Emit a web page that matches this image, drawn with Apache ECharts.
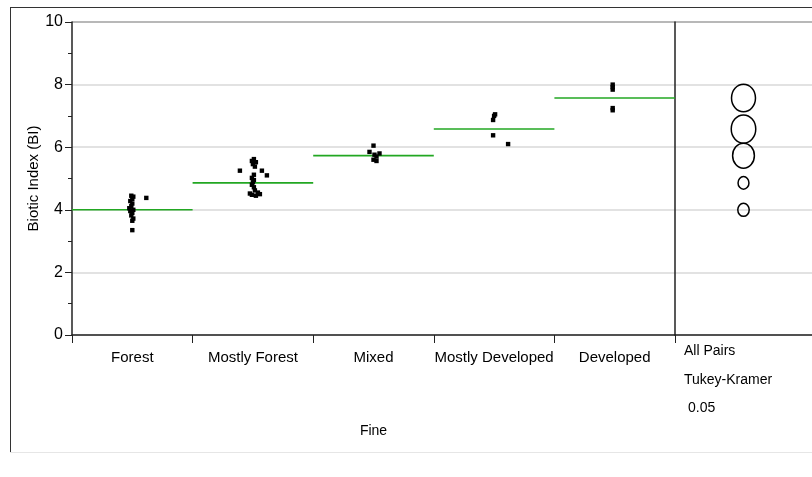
<!DOCTYPE html>
<html>
<head>
<meta charset="utf-8">
<script src="https://cdn.jsdelivr.net/npm/echarts@6/dist/echarts.min.js"></script>
<style>
  html, body { margin: 0; padding: 0; background: #fff; }
  #chart { width: 812px; height: 477px; }
</style>
</head>
<body>
<div id="chart"></div>
<script>
// Land-use categories along the x axis
const categories = ['Forest', 'Mostly Forest', 'Mixed', 'Mostly Developed', 'Developed'];

// Biotic Index observations per category
const forestBI = [4.45, 4.42, 4.35, 4.28, 4.20, 4.12, 4.05, 4.00, 3.96, 3.90, 3.82, 3.72, 3.65, 3.35, 4.38];
const mostlyForestBI = [5.62, 5.56, 5.52, 5.46, 5.38, 5.25, 5.25, 5.10, 5.12, 5.02, 4.95, 4.88, 4.80, 4.72, 4.62, 4.55, 4.52, 4.48, 4.45, 4.50];
const mixedBI = [6.05, 5.85, 5.80, 5.76, 5.70, 5.60, 5.56];
const mostlyDevelopedBI = [7.05, 7.00, 6.87, 6.38, 6.10];
const developedBI = [8.00, 7.92, 7.84, 7.25, 7.18];

// Group means (green lines) and Tukey-Kramer comparison circle radii
const groupMeans = [4.00, 4.86, 5.73, 6.58, 7.57];
const circleRadii = [0.21, 0.20, 0.40, 0.45, 0.44];

// Y axis ticks
const yTicks = [0, 2, 4, 6, 8, 10];

// Horizontal jitter (pixels) so stacked points stay visible
const jitterPx = [
  [-1, 1, 0, -2, 0, -1, -3, 1, -2, 0, -1, 1, 0, 0, 14],
  [1, -1, 3, 0, 2, -13, 9, 14, 1, -1, 1, 0, -1, 1, 2, 5, -3, -1, 3, 7],
  [0, -4, 6, 1, 3, 0, 3],
  [1, 0, -1, -1, 14],
  [-2, -2, -2, -2, -2]
];

const groups = [forestBI, mostlyForestBI, mixedBI, mostlyDevelopedBI, developedBI];
const pointData = [];
groups.forEach((vals, i) => {
  vals.forEach((v, j) => pointData.push([i, v, jitterPx[i][j]]));
});
const meanData = groupMeans.map((m, i) => [i, m]);
const circleData = groupMeans.map((m, i) => [0.5, m, circleRadii[i]]);

const FONT = 'Liberation Sans, Arial, sans-serif';
const AXIS = '#222';
const GRID = '#d9d9d9';

const chart = echarts.init(document.getElementById('chart'), null, { renderer: 'canvas' });

chart.setOption({
  animation: false,
  backgroundColor: '#fff',
  textStyle: { fontFamily: FONT },
  grid: [
    { left: 72, top: 22, right: 137, bottom: 142 },
    { left: 675, top: 22, right: 0, bottom: 142 }
  ],
  xAxis: [
    {
      type: 'category', gridIndex: 0, data: categories,
      name: 'Fine', nameLocation: 'middle', nameGap: 89, nameMoveOverlap: false,
      nameTextStyle: { fontFamily: FONT, fontSize: 14, color: '#000' },
      axisLine: { lineStyle: { color: AXIS, width: 1.5 } },
      axisTick: { show: true, alignWithLabel: false, length: 8, lineStyle: { color: AXIS } },
      axisLabel: { interval: 0, margin: 15, fontFamily: FONT, fontSize: 15, color: '#000' },
      splitLine: { show: false }
    },
    {
      type: 'value', gridIndex: 1, min: 0, max: 1,
      axisLine: { show: true, onZero: false, lineStyle: { color: AXIS, width: 1.5 } },
      axisTick: { show: false }, axisLabel: { show: false }, splitLine: { show: false }
    }
  ],
  yAxis: [
    {
      type: 'value', gridIndex: 0, min: 0, max: 10, interval: 2,
      name: 'Biotic Index (BI)', nameLocation: 'middle', nameGap: 31, nameMoveOverlap: false,
      nameTextStyle: { fontFamily: FONT, fontSize: 15, color: '#000' },
      axisLine: { show: true, lineStyle: { color: AXIS, width: 1.5 } },
      axisTick: { show: true, length: 7, lineStyle: { color: AXIS } },
      minorTick: { show: true, splitNumber: 2, length: 4, lineStyle: { color: AXIS } },
      axisLabel: {
        margin: 9, fontFamily: FONT, fontSize: 16, color: '#000',
        customValues: yTicks
      },
      splitLine: { show: true, lineStyle: { color: GRID, width: 1.5 } }
    },
    {
      type: 'value', gridIndex: 1, min: 0, max: 10, interval: 2,
      axisLine: { show: true, lineStyle: { color: AXIS, width: 1.5 } },
      axisTick: { show: false }, axisLabel: { show: false },
      splitLine: { show: true, lineStyle: { color: GRID, width: 1.5 } }
    }
  ],
  graphic: [
    // outer frame
    { type: 'line', shape: { x1: 10.5, y1: 7, x2: 10.5, y2: 452 }, style: { stroke: '#333', lineWidth: 1 } },
    { type: 'line', shape: { x1: 10, y1: 7.5, x2: 812, y2: 7.5 }, style: { stroke: '#333', lineWidth: 1 } },
    { type: 'line', shape: { x1: 10, y1: 452.5, x2: 812, y2: 452.5 }, style: { stroke: '#e6e6e6', lineWidth: 1 } },
    // top edge of plot frame
    { type: 'line', shape: { x1: 72, y1: 22, x2: 812, y2: 22 }, style: { stroke: AXIS, lineWidth: 1.5 } },
    // comparison circle caption
    { type: 'text', left: 684, top: 344, style: { text: 'All Pairs', font: '14px ' + FONT, fill: '#000' } },
    { type: 'text', left: 684, top: 373, style: { text: 'Tukey-Kramer', font: '14px ' + FONT, fill: '#000' } },
    { type: 'text', left: 688, top: 401, style: { text: '0.05', font: '14px ' + FONT, fill: '#000' } }
  ],
  series: [
    {
      name: 'means', type: 'custom', xAxisIndex: 0, yAxisIndex: 0,
      data: meanData, z: 3,
      renderItem: function (params, api) {
        const c = api.coord([api.value(0), api.value(1)]);
        const w = api.size([1, 0])[0];
        return {
          type: 'line',
          shape: { x1: c[0] - w / 2, y1: c[1], x2: c[0] + w / 2, y2: c[1] },
          style: { stroke: '#22a722', lineWidth: 1.6 }
        };
      }
    },
    {
      name: 'observations', type: 'custom', xAxisIndex: 0, yAxisIndex: 0,
      data: pointData, z: 4,
      renderItem: function (params, api) {
        const c = api.coord([api.value(0), api.value(1)]);
        const dx = api.value(2);
        return {
          type: 'rect',
          shape: { x: c[0] + dx - 2.2, y: c[1] - 2.2, width: 4.4, height: 4.4 },
          style: { fill: '#000' }
        };
      }
    },
    {
      name: 'comparison circles', type: 'custom', xAxisIndex: 1, yAxisIndex: 1,
      data: circleData, z: 4,
      renderItem: function (params, api) {
        const c = api.coord([api.value(0), api.value(1)]);
        const ry = api.size([0, api.value(2)])[1];
        return {
          type: 'ellipse',
          shape: { cx: c[0], cy: c[1], rx: ry * 0.87, ry: ry },
          style: { fill: 'none', stroke: '#000', lineWidth: 1.5 }
        };
      }
    }
  ]
});
</script>
</body>
</html>
